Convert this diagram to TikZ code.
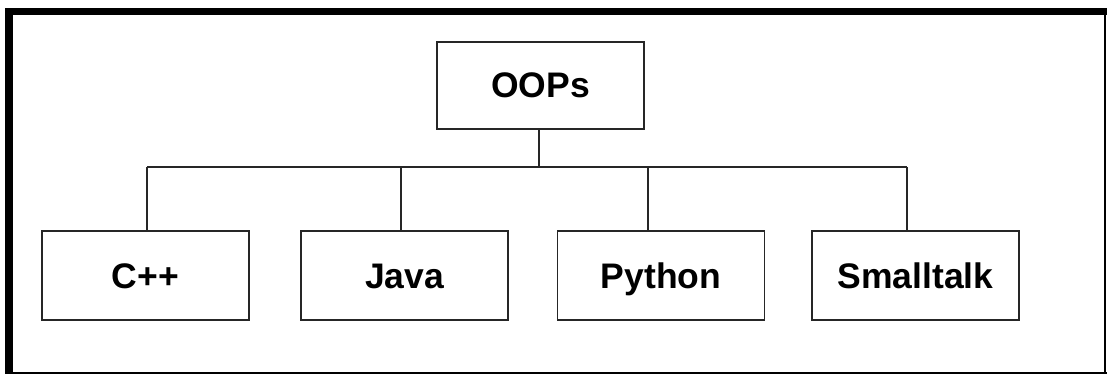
\documentclass[tikz,border=0pt]{standalone}
\usepackage{fontspec}
\setmainfont{Liberation Sans}
\begin{document}
\begin{tikzpicture}[x=1pt,y=-1pt,
  box/.style={draw=black!85,line width=1.8pt,minimum width=207pt,inner sep=0pt,
    text height=25pt,text depth=0pt,
    font=\fontsize{35.5}{40}\selectfont\bfseries,text=black},
  link/.style={draw=black!85,line width=1.5pt}]
\useasboundingbox (0,0) rectangle (1107,374);
% frame: heavy top and left edges, thin right and bottom edges
\fill[black] (5,8) rectangle (1107,15);
\fill[black] (5,8) rectangle (13,374);
\draw[black,line width=2pt] (1105,15) -- (1105,374);
\draw[black,line width=2pt] (13,372.5) -- (1107,372.5);
% root and children
\node[box,minimum height=87pt] (oops) at (540.5,85.5) {OOPs};
\node[box,minimum height=89pt] (cpp) at (145.5,275.5) {C++};
\node[box,minimum height=89pt] (java) at (404.5,275.5) {Java};
\node[box,minimum height=89pt] (python) at (661,275.5) {Python};
\node[box,minimum height=89pt] (small) at (915.5,275.5) {Smalltalk};
% bus junctions
\coordinate (jroot) at (539,167);
\coordinate (j1) at (147,167);
\coordinate (j2) at (401,167);
\coordinate (j3) at (648,167);
\coordinate (j4) at (907,167);
\draw[link] (jroot |- oops.south) -- (jroot);
\draw[link] (j1) -- (j4);
\draw[link] (j1) -- (j1 |- cpp.north);
\draw[link] (j2) -- (j2 |- java.north);
\draw[link] (j3) -- (j3 |- python.north);
\draw[link] (j4) -- (j4 |- small.north);
\end{tikzpicture}
\end{document}
